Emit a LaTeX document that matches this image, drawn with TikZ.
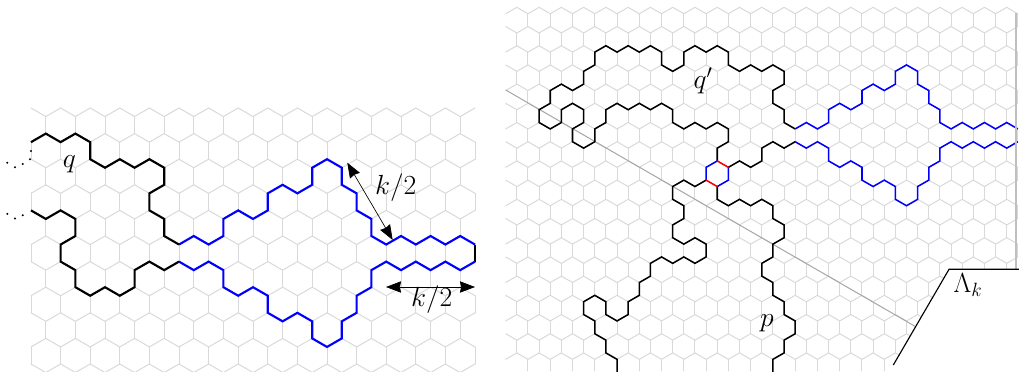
\documentclass[tikz,border=0pt]{standalone}
\usetikzlibrary{arrows.meta}

% one row of hexagons at a time: last column, last row, parity, first vertical
\newcommand{\hexgrid}[4]{%
  \foreach \k in {0,...,#2}{
    \foreach \i in {0,...,#1}{
      \pgfmathtruncatemacro{\m}{mod(\i+\k+#3,2)}
      \pgfmathtruncatemacro{\ja}{3*\k+\m}
      \pgfmathtruncatemacro{\jb}{3*\k+1-\m}
      \pgfmathtruncatemacro{\jc}{3*\k+3}
      \ifnum\i<#1 \draw[hexline] (\i,\ja) -- (\i+1,\jb); \fi
      \ifnum\m=1 \ifnum\i>#4 \draw[hexline] (\i,\ja) -- (\i,\jc); \fi \fi
    }
  }
}

\begin{document}
\begin{tikzpicture}[
    x=0.75pt, y=-0.75pt,
    font=\huge,
    >={Stealth[length=11.25pt, width=8.5pt, inset=0.8pt]},
    hexline/.style={draw=black!15, line width=0.75pt, line cap=round},
    pathl/.style={black, line width=1.6pt},
    pathr/.style={black, line width=1.15pt},
    dimline/.style={<->, draw=black, line width=0.5pt},
    edgeline/.style={black, line width=0.85pt},
    cutline/.style={draw=black!35, line width=0.75pt}
]
\useasboundingbox (0,0) rectangle (1019,371);

% Left panel
\begin{scope}
\clip (0,0) rectangle (1019,371);
\begin{scope}[shift={(31,108)}, x=11.1pt, y=-6.4pt]
  \hexgrid{30}{10}{0}{-1}

  % q and its way out of the picture
  \draw[pathl] plot coordinates {(10,16) (9,15) (9,13) (8,12) (8,10) (9,9) (9,7) (8,6) (7,7) (6,6) (5,7) (4,6) (4,4) (3,3) (2,4) (1,3) (0,4)};
  \draw[pathl] plot coordinates {(10,18) (9,19) (8,18) (7,19) (7,21) (6,22) (5,21) (4,22) (3,21) (3,19) (2,18) (2,16) (3,15) (3,13) (2,12) (1,13) (0,12)};

  % Blue loop
  \draw[pathl, blue] plot coordinates {(10,16) (11,15) (12,16) (13,15) (13,13) (14,12) (15,13) (16,12) (16,10) (17,9) (18,10) (19,9) (19,7) (20,6) (21,7) (21,9) (22,10) (22,12) (23,13) (23,15) (24,16) (25,15) (26,16) (27,15) (28,16) (29,15) (30,16)};
  \draw[pathl] (30,16) -- (30,18);
  \draw[pathl, blue] plot coordinates {(30,18) (29,19) (28,18) (27,19) (26,18) (25,19) (24,18) (23,19) (23,21) (22,22) (22,24) (21,25) (21,27) (20,28) (19,27) (19,25) (18,24) (17,25) (16,24) (16,22) (15,21) (14,22) (13,21) (13,19) (12,18) (11,19) (10,18)};
\end{scope}

% Dots
\foreach \dx/\dy in {31/151, 30/159.3, 22.7/164, 15/167.3, 7.3/162.7, 22.7/215.2, 15/218.5, 7.3/213.9}
  \fill (\dx,\dy) circle (0.85pt);

% Right panel
\begin{scope}
  \clip (505.7,0) -- (1019,0) -- (1019,269.3) -- (949,269.3) -- (889.8,371) -- (500,371) -- cycle;
  \begin{scope}[shift={(505.7,7.33)}, x=8.35pt, y=-4.8pt]
    \hexgrid{46}{19}{1}{0}
  \end{scope}
\end{scope}

\coordinate (cut_a) at (505.7,90);
\coordinate (cut_b) at (915.7,326.7);
\coordinate (wall_a) at (1015.7,13);
\coordinate (wall_b) at (1015.7,269.3);
\coordinate (box_c) at (949,269.3);
\coordinate (box_a) at (1019,269.3);
\coordinate (box_b) at (893.3,365);
\draw[cutline] (cut_a) -- (cut_b);

\begin{scope}[shift={(505.7,7.33)}, x=8.35pt, y=-4.8pt]
  % q'
  \draw[pathr] plot coordinates {(19,24) (19,22) (20,21) (20,19) (19,18) (18,19) (17,18) (16,19) (15,18) (15,16) (14,15) (13,16) (12,15) (11,16) (10,15) (9,16) (9,18) (8,19) (8,21) (7,22) (6,21) (6,19) (7,18) (7,16) (6,15) (5,16) (5,18) (4,19) (3,18) (3,16) (4,15) (4,13) (5,12) (6,13) (7,12) (7,10) (8,9) (8,7) (9,6) (10,7) (11,6) (12,7) (13,6) (14,7) (14,9) (15,10) (16,9) (16,7) (17,6) (18,7) (19,6) (20,7) (20,9) (21,10) (22,9) (23,10) (24,9) (25,10) (25,12) (24,13) (24,15) (25,16) (25,18) (26,19)};
  \draw[pathr] plot coordinates {(20,25) (21,24) (22,25) (23,24) (23,22) (24,21) (25,22) (26,21)};

  % p, both strands
  \draw[pathr] plot coordinates {(18,27) (17,28) (16,27) (15,28) (15,30) (16,31) (16,33) (15,34) (15,36) (16,37) (17,36) (18,37) (18,39) (17,40) (16,39) (15,40) (14,39) (13,40) (13,42) (12,43) (12,45) (11,46) (11,48) (10,49) (9,48) (9,46) (8,45) (7,46) (7,48) (8,49) (8,51) (9,52) (9,54) (10,55) (10,58)};
  \draw[pathr] plot coordinates {(19,28) (19,30) (20,31) (21,30) (22,31) (23,30) (24,31) (24,33) (25,34) (25,36) (24,37) (24,39) (23,40) (23,42) (24,43) (24,45) (25,46) (25,48) (26,49) (26,51) (25,52) (25,54) (24,55) (24,58)};

  % Blue loop
  \draw[pathr, blue] plot coordinates {(26,19) (27,18) (28,19) (29,18) (29,16) (30,15) (31,16) (32,15) (32,13) (33,12) (34,13) (35,12) (35,10) (36,9) (37,10) (37,12) (38,13) (38,15) (39,16) (39,18) (40,19) (41,18) (42,19) (43,18) (44,19) (45,18) (46,19)};
  \draw[pathr, blue] plot coordinates {(46,21) (45,22) (44,21) (43,22) (42,21) (41,22) (40,21) (39,22) (39,24) (38,25) (38,27) (37,28) (37,30) (36,31) (35,30) (35,28) (34,27) (33,28) (32,27) (32,25) (31,24) (30,25) (29,24) (29,22) (28,21) (27,22) (26,21)};

  % Small hexagon
  \draw[pathr, blue] (20,25) -- (20,27) -- (19,28);
  \draw[pathr, blue] (19,24) -- (18,25) -- (18,27);
  \draw[pathr, red] (19,24) -- (20,25);
  \draw[pathr, red] (18,27) -- (19,28);
\end{scope}
\end{scope}

\draw[draw=black!25, line width=1.4pt] (wall_a) -- (wall_b);
\draw[edgeline] (box_a) -- (box_c) -- (box_b);

% Arrows
\coordinate (diag_a) at (347.3,162.7);
\coordinate (diag_b) at (392.7,240);
\coordinate (horiz_a) at (386,287);
\coordinate (horiz_b) at (475,287);
\draw[dimline] (diag_a) -- (diag_b);
\draw[dimline] (horiz_a) -- (horiz_b);

% Labels
\node (q_lab) at (69.3,164) {$q$};
\node (k_diag) at (395.7,188) {$k/2$};
\node (k_horiz) at (431.7,300) {$k/2$};
\node (qp_lab) at (703,81) {$q'$};
\node (p_lab) at (767,323) {$p$};
\node (lam_lab) at (968,285) {$\Lambda_k$};
\end{tikzpicture}
\end{document}
